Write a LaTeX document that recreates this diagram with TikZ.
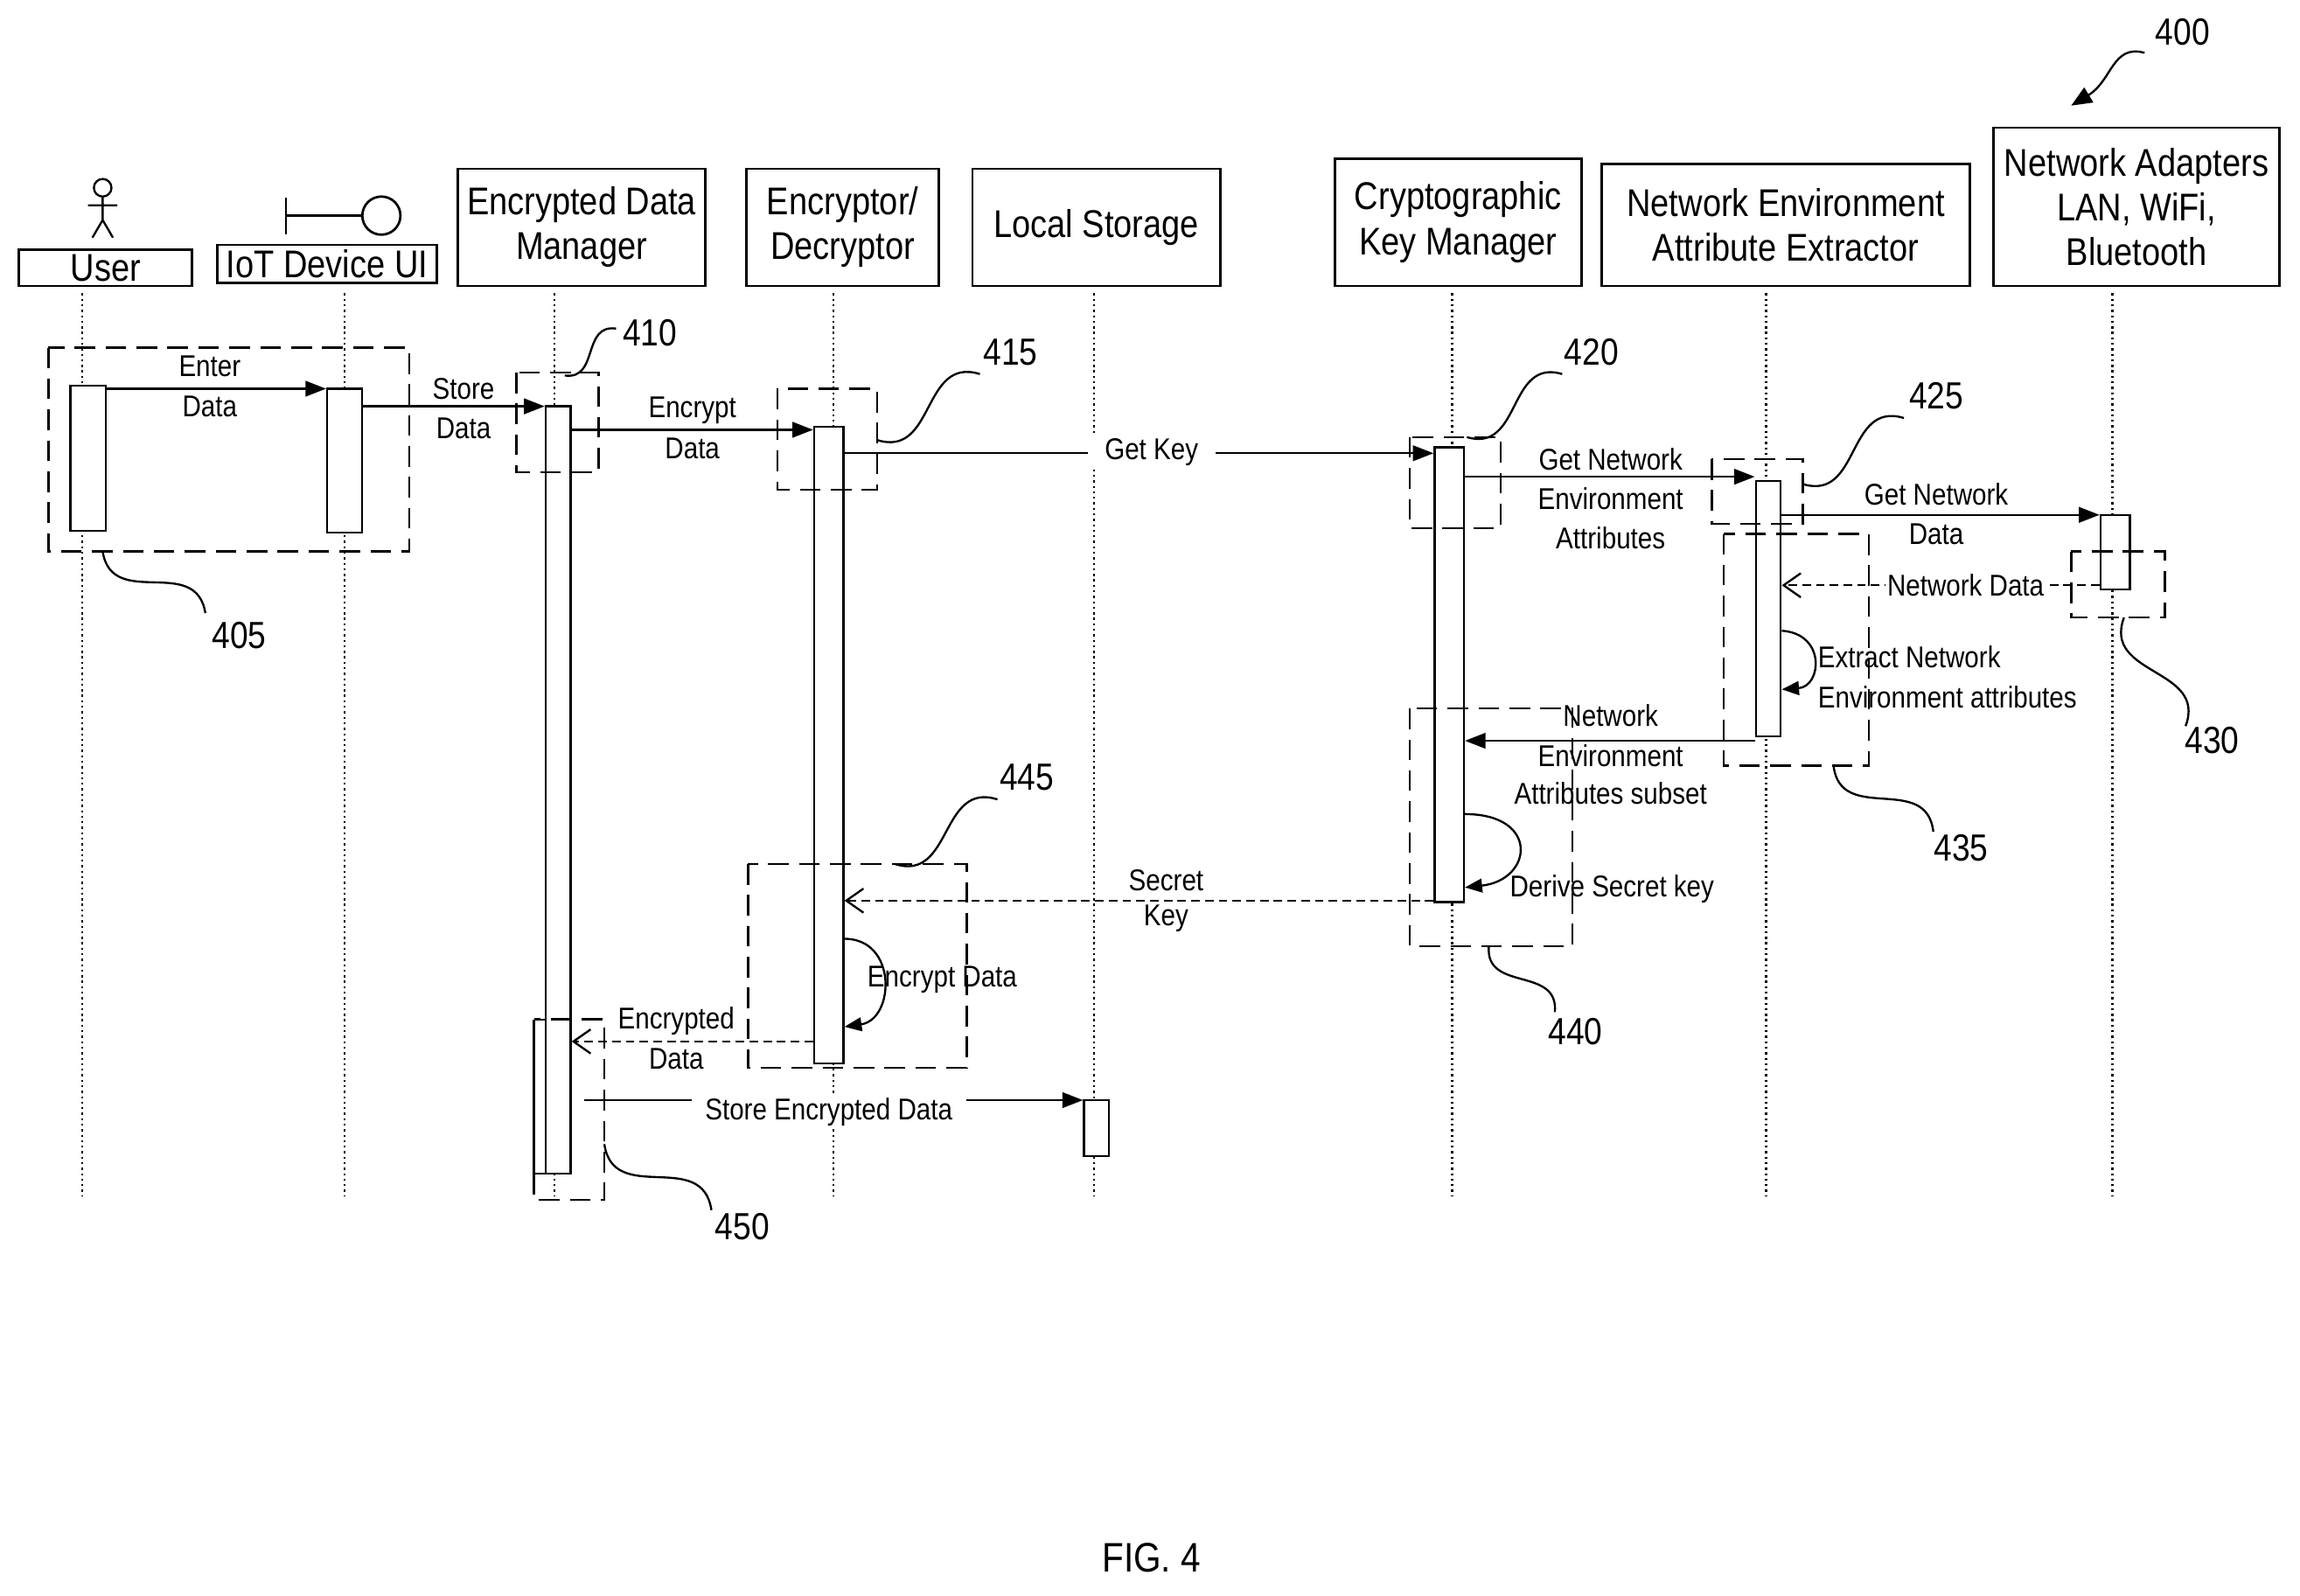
\documentclass[tikz,border=0pt]{standalone}
\usepackage{fontspec}
\setmainfont{Liberation Sans}[FakeStretch=0.86]
\usetikzlibrary{calc,arrows.meta}
\begin{document}
\begin{tikzpicture}[x=0.3mm,y=-0.3mm,
  hdr/.style={draw,line width=1.4pt,align=center,font=\fontsize{22.5}{26}\selectfont,inner sep=0pt},
  bar/.style={draw,fill=white,line width=1.2pt},
  life/.style={line width=1.2pt,dotted},
  msg/.style={line width=1.2pt,-{Triangle[length=12pt,width=9pt]}},
  ret/.style={line width=1.2pt,dash pattern=on 5pt off 3pt,-{Straight Barb[length=10pt,width=14pt]}},
  lbl/.style={font=\fontsize{17.5}{26}\selectfont,align=center,inner sep=1pt},
  wl/.style={lbl,fill=white},
  dbox/.style={line width=1.3pt,dash pattern=on 12pt off 6pt},
  num/.style={font=\fontsize{22}{26}\selectfont},
  sq/.style={line width=1.2pt}]
\useasboundingbox (0,0) rectangle (1568,1088);
% headers
\node[hdr,minimum width=118*0.3mm,minimum height=25*0.3mm] (hU) at (72,182.5) {User};
\node[hdr,minimum width=150*0.3mm,minimum height=26*0.3mm] (hI) at (223,180) {IoT Device UI};
\node[hdr,minimum width=169*0.3mm,minimum height=80*0.3mm] (hE) at (396.5,155) {Encrypted Data\\Manager};
\node[hdr,minimum width=131*0.3mm,minimum height=80*0.3mm] (hD) at (574.5,155) {Encryptor/\\Decryptor};
\node[hdr,minimum width=169*0.3mm,minimum height=80*0.3mm] (hL) at (747.5,155) {Local Storage};
\node[hdr,minimum width=168*0.3mm,minimum height=87*0.3mm] (hK) at (994,151.5) {Cryptographic\\Key Manager};
\node[hdr,minimum width=251*0.3mm,minimum height=83*0.3mm] (hX) at (1217.5,153.5) {Network Environment\\Attribute Extractor};
\node[hdr,minimum width=195*0.3mm,minimum height=108*0.3mm] (hN) at (1456.5,141) {Network Adapters\\LAN, WiFi,\\Bluetooth};
% actor
\draw[line width=1.2pt] (70,128) circle (6);
\draw[line width=1.2pt] (70,134)--(70,150) (60,140)--(80,140) (70,150)--(63,162) (70,150)--(77,162);
% boundary symbol
\draw[line width=1.4pt] (195,135)--(195,160) (195,147)--(247,147);
\draw[line width=1.4pt] (260,147) circle (13);
% lifelines
\foreach \x in {56,235,378,568,746,990,1204,1440} \draw[life] (\x,200)--(\x,815);
% activation bars
\node[bar,minimum width=24*0.3mm,minimum height=99*0.3mm,inner sep=0] (aU) at (60,312.5) {};
\node[bar,minimum width=24*0.3mm,minimum height=98*0.3mm,inner sep=0] (aI) at (235,314) {};
\draw[line width=1.2pt] (364,695)--(364,800)--(372,800);
\draw[line width=1.2pt] (364,695)--(372,695);
\node[bar,minimum width=17*0.3mm,minimum height=523*0.3mm,inner sep=0] (aE) at (380.5,538.5) {};
\node[bar,minimum width=20*0.3mm,minimum height=434*0.3mm,inner sep=0] (aD) at (565,508) {};
\node[bar,minimum width=17*0.3mm,minimum height=38*0.3mm,inner sep=0] (aL) at (747.5,769) {};
\node[bar,minimum width=20*0.3mm,minimum height=310*0.3mm,inner sep=0] (aK) at (988,460) {};
\node[bar,minimum width=17*0.3mm,minimum height=174*0.3mm,inner sep=0] (aX) at (1205.5,415) {};
\node[bar,minimum width=20*0.3mm,minimum height=51*0.3mm,inner sep=0] (aN) at (1442,376.5) {};
% messages
\draw[msg] (aU.east|-0,265)--(aI.west|-0,265);
\node[lbl] at (143,250) {Enter}; \node[lbl] at (143,277) {Data};
\draw[msg] (aI.east|-0,277)--(aE.west|-0,277);
\node[lbl] at (316,265) {Store}; \node[lbl] at (316,292) {Data};
\draw[msg] (aE.east|-0,293)--(aD.west|-0,293);
\node[lbl] at (472,280) {Encrypt}; \node[lbl] at (472,306) {Data};
\draw[msg] (aD.east|-0,309)--(aK.west|-0,309);
\node[wl,inner xsep=10pt] at (785,308) {Get Key};
\draw[msg] (aK.east|-0,325)--(aX.west|-0,325);
\node[lbl] at (1098,313) {Get Network}; \node[lbl] at (1098,340) {Environment}; \node[lbl] at (1098,367) {Attributes};
\draw[msg] (aX.east|-0,351)--(aN.west|-0,351);
\node[lbl] at (1320,337) {Get Network}; \node[lbl] at (1320,364) {Data};
\draw[ret] (aN.west|-0,399)--(aX.east|-0,399);
\node[wl] at (1340,399) {Network Data};
\draw[line width=1.2pt,-{Triangle[length=10pt,width=8pt]}] (aX.east|-0,430) .. controls (1245,432) and (1242,468) .. (aX.east|-0,470);
\node[lbl,anchor=west] at (1238,448) {Extract Network};
\node[lbl,anchor=west] at (1238,475) {Environment attributes};
\draw[msg] (aX.west|-0,505)--(aK.east|-0,505);
\node[lbl] at (1098,488) {Network}; \node[lbl] at (1098,515) {Environment}; \node[lbl] at (1098,541) {Attributes subset};
\draw[line width=1.2pt,-{Triangle[length=10pt,width=8pt]}] (aK.east|-0,555) .. controls (1050,555) and (1045,600) .. (aK.east|-0,605);
\node[lbl,anchor=west] at (1028,606) {Derive Secret key};
\draw[ret] (aK.west|-0,614)--(aD.east|-0,614);
\node[wl] at (795,600) {Secret}; \node[wl] at (795,626) {Key};
\draw[line width=1.2pt,-{Triangle[length=10pt,width=8pt]}] (aD.east|-0,640) .. controls (612,640) and (610,695) .. (aD.east|-0,700);
\node[lbl,anchor=west] at (590,668) {Encrypt Data};
\draw[ret] (aD.west|-0,710)--(aE.east|-0,710);
\node[lbl] at (461,696) {Encrypted}; \node[lbl] at (461,722) {Data};
\draw[msg] (398,750)--(aL.west|-0,750);
\node[wl,inner xsep=8pt] at (565,758) {Store Encrypted Data};
% dashed boxes
\draw[dbox] (33,237) rectangle (279,376);
\draw[dbox] (352,254) rectangle (408,322);
\draw[dbox] (530,265) rectangle (598,334);
\draw[dbox] (961,298) rectangle (1023,360);
\draw[dbox] (1167,313) rectangle (1229,357);
\draw[dbox] (1412,376) rectangle (1476,421);
\draw[dbox] (1175,364) rectangle (1274,522);
\draw[dbox] (961,483) rectangle (1072,645);
\draw[dbox] (510,589) rectangle (659,728);
\draw[dbox] (364,695) rectangle (412,818);
% reference squiggles
\newcommand\sqg[2]{\draw[sq] (#1) .. controls ($(#1)!0.5!-50:(#2)$) and ($(#2)!0.5!-50:(#1)$) .. (#2);}
\sqg{70,376}{140,418}\node[num] at (163,433) {405};
\sqg{385,256}{420,224}\node[num] at (443,227) {410};
\sqg{598,300}{668,255}\node[num] at (689,240) {415};
\sqg{1000,298}{1065,255}\node[num] at (1085,240) {420};
\sqg{1229,330}{1298,285}\node[num] at (1320,270) {425};
\sqg{1448,421}{1490,495}\node[num] at (1508,505) {430};
\sqg{1250,522}{1318,567}\node[num] at (1337,578) {435};
\sqg{1015,645}{1060,690}\node[num] at (1074,703) {440};
\sqg{610,589}{680,545}\node[num] at (700,530) {445};
\sqg{412,780}{485,825}\node[num] at (506,836) {450};
\node[num] (n400) at (1488,22) {400};
\draw[sq,-{Triangle[length=12pt,width=10pt]}] (1462,36) .. controls (1440,30) and (1440,55) .. (1412,72);
\node[font=\fontsize{24}{28}\selectfont] at (785,1062) {FIG. 4};
\end{tikzpicture}
\end{document}
